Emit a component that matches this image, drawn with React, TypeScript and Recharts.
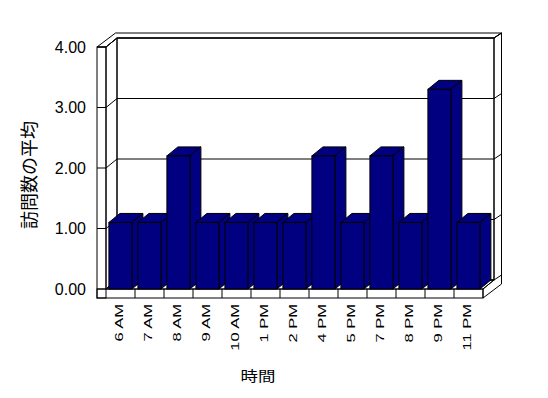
import React from "react";
import { BarChart, Bar, XAxis, YAxis, CartesianGrid } from "recharts";

const hours = [
  "6 AM", "7 AM", "8 AM", "9 AM", "10 AM", "1 PM", "2 PM",
  "4 PM", "5 PM", "7 PM", "8 PM", "9 PM", "11 PM",
];
const avgVisits = [1.1, 1.1, 2.2, 1.1, 1.1, 1.1, 1.1, 2.2, 1.1, 2.2, 1.1, 3.3, 1.1];
const yTicks = [0, 1, 2, 3, 4];

const data = hours.map((hour, i) => ({ hour, visits: avgVisits[i] }));

// chart box and front plane of the plot
const W = 540;
const H = 382;
const LEFT = 98;
const TOP = 39;
const RIGHT = 475;
const BOTTOM = 281;
const DX = 11; // depth of floor and bars
const DY = 9;
const BX = 7.5; // back wall thickness
const BY = 5;
const T = 9; // slab thickness of floor / left wall
const NAVY = "#000080";
const FONT = "'Liberation Sans', Arial, sans-serif";
const JP = "'Noto Sans CJK JP', sans-serif";

const pts = (a: number[][]) => a.map((p) => p.join(",")).join(" ");
const line = { fill: "none", stroke: "#000", strokeWidth: 1 };

const Walls = () => {
  const band = (RIGHT - LEFT) / hours.length;
  return (
    <g>
      <rect x={LEFT - T} y={TOP} width={T} height={BOTTOM + T - TOP} {...line} />
      <polygon
        points={pts([[LEFT, TOP], [LEFT + DX, TOP - DY], [LEFT + DX, BOTTOM - DY], [LEFT, BOTTOM]])}
        {...line}
      />
      <polygon
        points={pts([
          [LEFT - T, TOP],
          [LEFT - T + DX + BX, TOP - DY - BY],
          [RIGHT + DX + BX, TOP - DY - BY],
          [RIGHT + DX, TOP - DY],
          [LEFT + DX, TOP - DY],
          [LEFT, TOP],
        ])}
        {...line}
      />
      <rect x={LEFT + DX} y={TOP - DY} width={RIGHT - LEFT} height={BOTTOM - TOP} {...line} />
      <polygon
        points={pts([
          [RIGHT + DX, TOP - DY],
          [RIGHT + DX + BX, TOP - DY - BY],
          [RIGHT + DX + BX, BOTTOM + T - DY - BY],
          [RIGHT, BOTTOM + T],
          [RIGHT, BOTTOM],
          [RIGHT + DX, BOTTOM - DY],
        ])}
        {...line}
      />
      <polygon
        points={pts([[LEFT, BOTTOM], [RIGHT, BOTTOM], [RIGHT + DX, BOTTOM - DY], [LEFT + DX, BOTTOM - DY]])}
        {...line}
      />
      <rect x={LEFT - T} y={BOTTOM} width={RIGHT - LEFT + T} height={T} {...line} />
      {hours.slice(1).map((h, i) => (
        <line
          key={h}
          x1={LEFT + band * (i + 1)}
          x2={LEFT + band * (i + 1)}
          y1={BOTTOM}
          y2={BOTTOM + T}
          stroke="#000"
        />
      ))}
    </g>
  );
};

const gridLine = (p: any) => {
  const y = p.y1;
  const d = `M${LEFT - T},${y}H${LEFT}L${LEFT + DX},${y - DY}H${RIGHT + DX}L${RIGHT + DX + BX},${y - DY - BY}`;
  return <path key={`grid-${y}`} d={d} {...line} />;
};

const Box = (props: any) => {
  const { x, y, width, height } = props;
  if (!height || height <= 0) return null;
  const f = { fill: NAVY, stroke: "#000", strokeWidth: 1 };
  return (
    <g>
      <polygon
        points={pts([[x, y], [x + DX, y - DY], [x + width + DX, y - DY], [x + width, y]])}
        {...f}
      />
      <polygon
        points={pts([[x + width, y], [x + width + DX, y - DY], [x + width + DX, y + height - DY], [x + width, y + height]])}
        {...f}
      />
      <rect x={x} y={y} width={width} height={height} {...f} />
    </g>
  );
};

const HourTick = (p: any) => (
  <text
    transform={`translate(${p.x},${p.y}) rotate(-90) scale(1.5,1)`}
    y={2}
    textAnchor="end"
    fontSize={11}
    fontFamily={FONT}
    fill="#000"
  >
    {p.payload.value}
  </text>
);

const Titles = () => (
  <g>
    <text
      transform="translate(20,167) rotate(-90)"
      textAnchor="middle"
      dominantBaseline="central"
      fontSize={18}
      fontFamily={JP}
      fill="#000"
    >
      訪問数の平均
    </text>
    <text
      transform="translate(250,367) scale(1.25,1)"
      textAnchor="middle"
      dominantBaseline="central"
      fontSize={14}
      fontFamily={JP}
      fill="#000"
    >
      時間
    </text>
  </g>
);

export default function App() {
  return (
    <BarChart
      width={W}
      height={H}
      data={data}
      margin={{ top: TOP, right: W - RIGHT, bottom: H - BOTTOM - 60, left: LEFT - 60 }}
      barCategoryGap="10%"
    >
      <Walls />
      <CartesianGrid horizontal={gridLine} vertical={false} />
      <XAxis
        dataKey="hour"
        height={60}
        interval={0}
        axisLine={false}
        tickLine={false}
        tickSize={0}
        tickMargin={15}
        tick={HourTick}
      />
      <YAxis
        width={60}
        domain={[0, 4]}
        ticks={yTicks}
        axisLine={false}
        tickLine={false}
        tickSize={0}
        tickMargin={20}
        tickFormatter={(v: number) => v.toFixed(2)}
        tick={{ fill: "#000", fontSize: 16, fontFamily: FONT }}
      />
      <Bar dataKey="visits" shape={Box} isAnimationActive={false} />
      <Titles />
    </BarChart>
  );
}
